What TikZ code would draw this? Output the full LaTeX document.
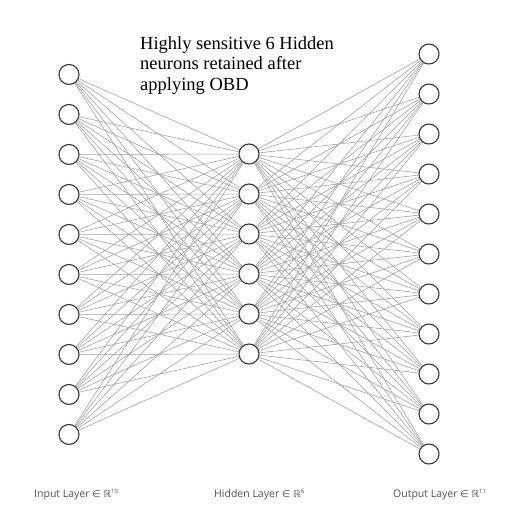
\documentclass[tikz,border=0pt]{standalone}
\usepackage{fontspec}
\setmainfont{Liberation Serif}
\newfontfamily\labf{Open Sans}
\newfontfamily\symf{DejaVu Sans}
\usetikzlibrary{backgrounds}
\begin{document}
\begin{tikzpicture}[x=1pt,y=-1pt,
  neuron/.style={circle,draw=black!78,line width=1.1pt,fill=white,minimum size=20pt,inner sep=0pt},
  conn/.style={draw=black!38,line width=0.55pt},
  layerlab/.style={font=\labf\fontsize{10.5}{12}\selectfont,text=black!68,anchor=base west,inner sep=0pt},
  titletext/.style={font=\fontsize{18.5}{20}\selectfont,anchor=base west,inner sep=0pt}]
\useasboundingbox (0,0) rectangle (523,514);
\foreach \i in {0,...,9} \node[neuron] (i\i) at (69,{74.5+40*\i}) {};
\foreach \h in {0,...,5} \node[neuron] (h\h) at (249,{154+40*\h}) {};
\foreach \o in {0,...,10} \node[neuron] (o\o) at (429,{54+40*\o}) {};
\begin{scope}[on background layer]
\foreach \i in {0,...,9} \foreach \h in {0,...,5} \draw[conn] (i\i) -- (h\h);
\foreach \h in {0,...,5} \foreach \o in {0,...,10} \draw[conn] (h\h) -- (o\o);
\end{scope}
\node[titletext] (t1) at (140,49) {Highly sensitive 6 Hidden};
\node[titletext] (t2) at (140,70) {neurons retained after};
\node[titletext] (t3) at (140,90) {applying OBD};
\node[layerlab] (l1) at (34,497) {Input Layer {\symf\fontsize{9.5}{12}\selectfont ∈ ℝ}\textsuperscript{\fontsize{6}{7}\selectfont 10}};
\node[layerlab] (l2) at (214,497) {Hidden Layer {\symf\fontsize{9.5}{12}\selectfont ∈ ℝ}\textsuperscript{\fontsize{6}{7}\selectfont 6}};
\node[layerlab] (l3) at (393,497) {Output Layer {\symf\fontsize{9.5}{12}\selectfont ∈ ℝ}\textsuperscript{\fontsize{6}{7}\selectfont 11}};
\end{tikzpicture}
\end{document}
